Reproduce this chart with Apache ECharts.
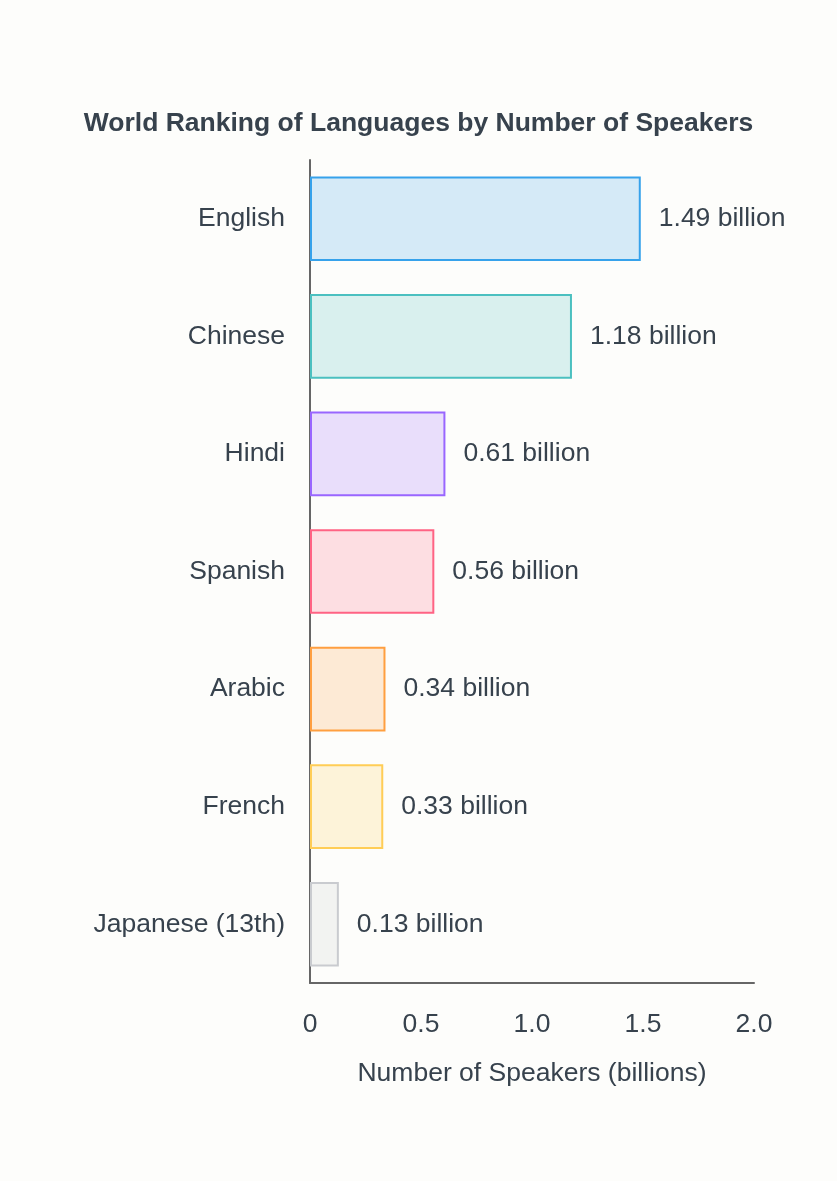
<!DOCTYPE html>
<html>
<head>
<meta charset="utf-8">
<title>World Ranking of Languages by Number of Speakers</title>
<script src="https://cdn.jsdelivr.net/npm/echarts@6/dist/echarts.min.js"></script>
<style>
  html, body { margin: 0; padding: 0; background: #fdfdfb; }
  #chart { width: 837px; height: 1181px; }
</style>
</head>
<body>
<div id="chart"></div>
<script>
// data
var languages = ['English', 'Chinese', 'Hindi', 'Spanish', 'Arabic', 'French', 'Japanese (13th)'];
var speakers = [1.49, 1.18, 0.61, 0.56, 0.34, 0.33, 0.13];
var xTicks = [0, 0.5, 1.0, 1.5, 2.0];

// bar colours: border, fill at 20%
var borderColors = ['rgb(54,162,235)', 'rgb(75,192,192)', 'rgb(153,102,255)', 'rgb(255,99,132)',
  'rgb(255,159,64)', 'rgb(255,205,86)', 'rgb(201,203,207)'];
var fillColors = ['rgba(54,162,235,0.2)', 'rgba(75,192,192,0.2)', 'rgba(153,102,255,0.2)', 'rgba(255,99,132,0.2)',
  'rgba(255,159,64,0.2)', 'rgba(255,205,86,0.2)', 'rgba(201,203,207,0.2)'];

var textColor = '#37424d';
var font = '"Liberation Sans", Arial, Helvetica, sans-serif';
var fs = 26.5;

var myChart = echarts.init(document.getElementById('chart'));

var barData = speakers.map(function (v, i) {
  return {
    value: v,
    itemStyle: { color: fillColors[i], borderColor: borderColors[i], borderWidth: 2 }
  };
});

myChart.setOption({
  backgroundColor: '#fdfdfb',
  animation: false,
  textStyle: { fontFamily: font, color: textColor },
  title: {
    text: 'World Ranking of Languages by Number of Speakers',
    left: 'center',
    top: 105,
    textStyle: { fontSize: fs, fontWeight: 'bold', color: textColor, fontFamily: font }
  },
  grid: { left: 310, right: 83, top: 160, bottom: 198, containLabel: false },
  xAxis: {
    type: 'value',
    min: 0,
    max: 2,
    interval: 0.5,
    name: 'Number of Speakers (billions)',
    nameLocation: 'middle',
    nameGap: 77,
    nameTextStyle: { fontSize: fs, color: textColor, fontFamily: font },
    axisLine: { show: true, lineStyle: { color: '#666', width: 2 } },
    axisTick: { show: false },
    splitLine: { show: false },
    axisLabel: {
      fontSize: fs,
      color: textColor,
      fontFamily: font,
      margin: 28,
      formatter: function (v) {
        var i = xTicks.indexOf(v);
        return i === 0 ? '0' : v.toFixed(1);
      }
    }
  },
  yAxis: {
    type: 'category',
    inverse: true,
    data: languages,
    axisLine: { show: true, lineStyle: { color: '#666', width: 2 } },
    axisTick: { show: false },
    axisLabel: { fontSize: fs, color: textColor, fontFamily: font, margin: 25 }
  },
  series: [{
    type: 'bar',
    data: barData,
    barWidth: '72%',
    label: {
      show: true,
      position: 'right',
      distance: 18,
      fontSize: fs,
      color: textColor,
      fontFamily: font,
      formatter: function (p) { return p.value.toFixed(2) + ' billion'; }
    }
  }]
});
</script>
</body>
</html>
